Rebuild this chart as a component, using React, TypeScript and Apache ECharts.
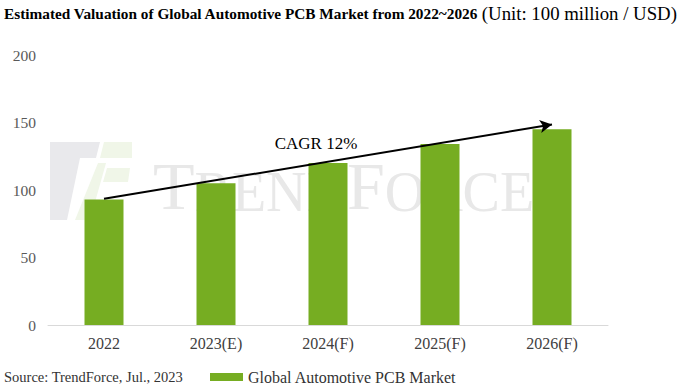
import React, { useEffect, useRef } from "react";
import * as echarts from "echarts";

const categories = ["2022", "2023(E)", "2024(F)", "2025(F)", "2026(F)"];
const marketValues = [93, 105, 120, 134, 145];
const yTicks = [0, 50, 100, 150, 200];
const arrowStart = { category: "2022", value: 93.5 };
const arrowEnd = { category: "2026(F)", value: 148.5 };

const SERIF = "'Liberation Serif', 'Times New Roman', serif";
const GREEN = "#76ad22";

export default function App() {
  const ref = useRef<HTMLDivElement>(null);
  useEffect(() => {
    if (!ref.current) return;
    const chart = echarts.init(ref.current, undefined, { renderer: "svg" });
    chart.setOption({
      animation: false,
      backgroundColor: "#ffffff",
      textStyle: { fontFamily: SERIF },
      grid: { left: 48, right: 72, top: 55, bottom: 65 },
      xAxis: {
        type: "category",
        data: categories,
        axisLine: { lineStyle: { color: "#d9d9d9", width: 1 } },
        axisTick: { show: false },
        axisLabel: { color: "#404040", fontSize: 16, fontFamily: SERIF, margin: 10 },
      },
      yAxis: {
        type: "value",
        min: yTicks[0],
        max: yTicks[yTicks.length - 1],
        interval: 50,
        splitLine: { show: false },
        axisLine: { show: false },
        axisTick: { show: false },
        axisLabel: { color: "#595959", fontSize: 15.5, fontFamily: SERIF, margin: 12 },
      },
      legend: {
        left: 205,
        top: 364,
        itemWidth: 33,
        itemHeight: 8,
        icon: "rect",
        textStyle: { color: "#333333", fontSize: 16, fontFamily: SERIF },
        data: ["Global Automotive PCB Market"],
      },
      graphic: [
        {
          type: "polygon",
          z: -10,
          silent: true,
          shape: { points: [[50, 142], [100, 142], [96, 158], [80, 158], [67, 220], [50, 220]] },
          style: { fill: "#e9e9ec" },
        },
        {
          type: "polygon",
          z: -10,
          silent: true,
          shape: { points: [[104, 142], [132, 142], [132, 158], [100, 158]] },
          style: { fill: "#f0f6e8" },
        },
        {
          type: "polygon",
          z: -10,
          silent: true,
          shape: { points: [[98, 163], [106, 163], [90, 220], [75, 220]] },
          style: { fill: "#f0f6e8" },
        },
        {
          type: "polygon",
          z: -10,
          silent: true,
          shape: { points: [[107, 168], [130, 168], [128, 182], [103, 182]] },
          style: { fill: "#f0f6e8" },
        },
        {
          type: "text",
          z: -10,
          silent: true,
          left: 153,
          top: 152,
          style: {
            text: "{b|T}{s|REND}{b|F}{s|ORCE}",
            rich: {
              b: { fontSize: 68, fontFamily: SERIF, fill: "#e8e8e8", verticalAlign: "bottom" },
              s: { fontSize: 56, fontFamily: SERIF, fill: "#e8e8e8", verticalAlign: "bottom" },
            },
          },
        },
        {
          type: "text",
          x: 4,
          y: 13,
          style: {
            text: "{b|Estimated Valuation of Global Automotive PCB Market from 2022~2026} {n|(Unit: 100 million / USD)}",
            verticalAlign: "middle",
            rich: {
              b: { fontSize: 15.3, fontWeight: "bold", fontFamily: SERIF, fill: "#000000" },
              n: { fontSize: 18.8, fontFamily: SERIF, fill: "#000000" },
            },
          },
        },
        {
          type: "text",
          x: 316,
          y: 143,
          style: {
            text: "CAGR 12%",
            fontSize: 17,
            fontFamily: SERIF,
            fill: "#000000",
            align: "center",
            verticalAlign: "middle",
          },
        },
        {
          type: "text",
          x: 4,
          y: 377,
          style: {
            text: "Source: TrendForce, Jul., 2023",
            fontSize: 14.5,
            fontFamily: SERIF,
            fill: "#333333",
            verticalAlign: "middle",
          },
        },
      ],
      series: [
        {
          name: "Global Automotive PCB Market",
          type: "bar",
          data: marketValues,
          barWidth: 39,
          itemStyle: { color: GREEN },
          z: 2,
          markLine: {
            silent: true,
            symbol: ["none", "arrow"],
            symbolSize: [10, 12],
            label: { show: false },
            lineStyle: { color: "#000000", width: 2, type: "solid", curveness: -0.02 },
            data: [
              [
                { coord: [arrowStart.category, arrowStart.value] },
                { coord: [arrowEnd.category, arrowEnd.value] },
              ],
            ],
          },
        },
      ],
    });
    return () => chart.dispose();
  }, []);
  return <div ref={ref} style={{ width: 680, height: 390, position: "absolute", left: 0, top: 0 }} />;
}
